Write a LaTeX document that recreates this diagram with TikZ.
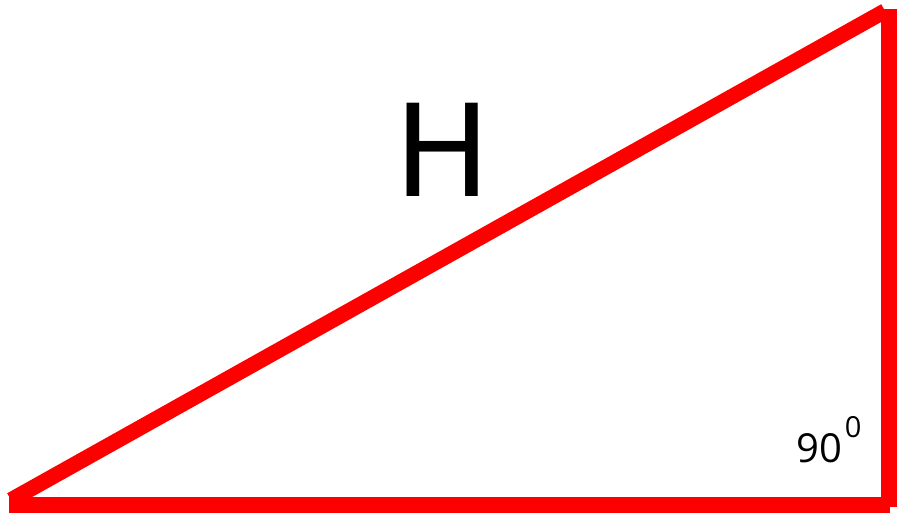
\documentclass[tikz,border=0pt]{standalone}
\usepackage{fontspec}
\setmainfont{DejaVu Sans}
\newfontfamily\anglefont{Open Sans}
\tikzset{
  side/.style={draw=red, line width=15.5pt, line cap=butt},
}
\begin{document}
\begin{tikzpicture}[x=1pt,y=-1pt,every node/.style={inner sep=0pt}]
    \useasboundingbox (0,0) rectangle (899,518);

    % corners of the triangle
    \coordinate (bl) at (11,500);
    \coordinate (tr) at (885,11);
    \coordinate (base0) at (9,505);
    \coordinate (base1) at (890,505);
    \coordinate (leg0) at (889,9);
    \coordinate (leg1) at (889,507);

    \draw[side] (base0) -- (base1);
    \draw[side] (leg0) -- (leg1);
    \draw[side] (bl) -- (tr);

    \node[anchor=base, font=\fontsize{128}{128}\selectfont] (hyp) at (443,197) {H};
    \node[anchor=base west, font=\anglefont\fontsize{40}{40}\selectfont] (ang) at (796,462)
      {90\hspace{3pt}\raisebox{25pt}{\fontsize{29}{29}\selectfont 0}};
\end{tikzpicture}
\end{document}
